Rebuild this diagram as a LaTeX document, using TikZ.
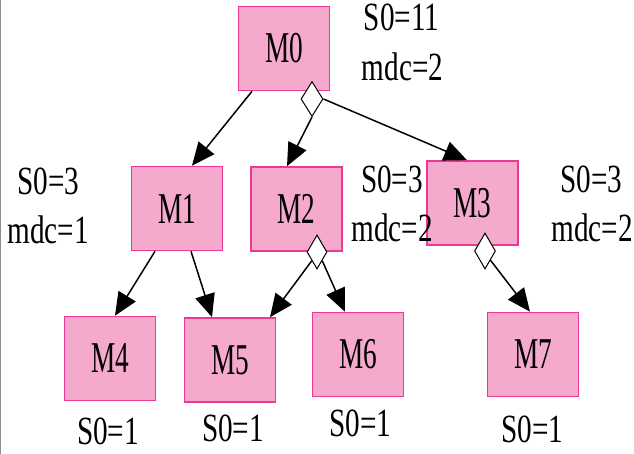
\documentclass[tikz,border=0pt]{standalone}
\usepackage{fontspec}
\setmainfont{Liberation Serif}[FakeStretch=0.73]
\newfontfamily\mfont{Liberation Serif}[FakeStretch=0.62]
\usetikzlibrary{arrows.meta,shapes.geometric}
\definecolor{boxfill}{RGB}{245,170,205}
\definecolor{boxline}{RGB}{238,55,150}
\definecolor{frameline}{RGB}{140,140,140}
\tikzset{
  mbox/.style={draw=boxline, fill=boxfill, line width=1.6pt, minimum width=91pt, minimum height=84pt, inner sep=0pt, font=\mfont\fontsize{44}{44}\selectfont},
  lbl/.style={inner sep=0pt, font=\fontsize{40}{40}\selectfont},
  dmd/.style={diamond, draw=black, fill=white, line width=1pt, inner sep=0pt, aspect=0.6},
  edge/.style={draw=black, line width=1.5pt, -{Triangle[length=23pt,width=20pt]}}
}
\begin{document}
\begin{tikzpicture}[x=1pt,y=-1pt]
\useasboundingbox (0,0) rectangle (634,454);
\fill[white] (0,0) rectangle (634,454);
\draw[frameline, line width=1.2pt] (0.6,0) -- (0.6,454);
% boxes
\node[mbox] (m0) at (284,48.5) {M0};
\node[mbox] (m1) at (177,208.5) {M1};
\node[mbox] (m2) at (296.5,209) {M2};
\node[mbox] (m3) at (472.5,203) {M3};
\node[mbox] (m4) at (110,358.5) {M4};
\node[mbox] (m5) at (230,360) {M5};
\node[mbox] (m6) at (358,354.5) {M6};
\node[mbox] (m7) at (533,354.5) {M7};
% diamonds
\node[dmd, minimum width=22pt, minimum height=35pt] (d0) at (312,99) {};
\node[dmd, minimum width=20pt, minimum height=34pt] (d2) at (317,252) {};
\node[dmd, minimum width=21pt, minimum height=36pt] (d3) at (485,251) {};
% edges
\draw[edge] ([xshift=-32pt]m0.south) -- ([xshift=15pt]m1.north);
\draw[edge] (d0.south) -- ([xshift=-9.5pt]m2.north);
\draw[edge] (d0.east) -- ([xshift=-5.5pt]m3.north);
\draw[edge] ([xshift=-22pt]m1.south) -- ([xshift=5pt]m4.north);
\draw[edge] ([xshift=14pt]m1.south) -- ([xshift=-18pt]m5.north);
\draw[edge] (d2.south west) -- ([xshift=40pt]m5.north);
\draw[edge] (d2.south east) -- ([xshift=-13pt]m6.north);
\draw[edge] (d3.south east) -- ([xshift=-3pt]m7.north);
% labels
\node[lbl] (t0a) at (401.5,17.5) {S0=11};
\node[lbl] (t0b) at (402.5,67) {mdc=2};
\node[lbl] (t1a) at (48.5,181.5) {S0=3};
\node[lbl] (t1b) at (48,230) {mdc=1};
\node[lbl] (t2a) at (392,179) {S0=3};
\node[lbl] (t2b) at (392,228) {mdc=2};
\node[lbl] (t3a) at (591.5,179) {S0=3};
\node[lbl] (t3b) at (592,228) {mdc=2};
\node[lbl] (t4) at (108,431.5) {S0=1};
\node[lbl] (t5) at (233,428.5) {S0=1};
\node[lbl] (t6) at (360.5,423.5) {S0=1};
\node[lbl] (t7) at (532.5,429) {S0=1};
\end{tikzpicture}
\end{document}
